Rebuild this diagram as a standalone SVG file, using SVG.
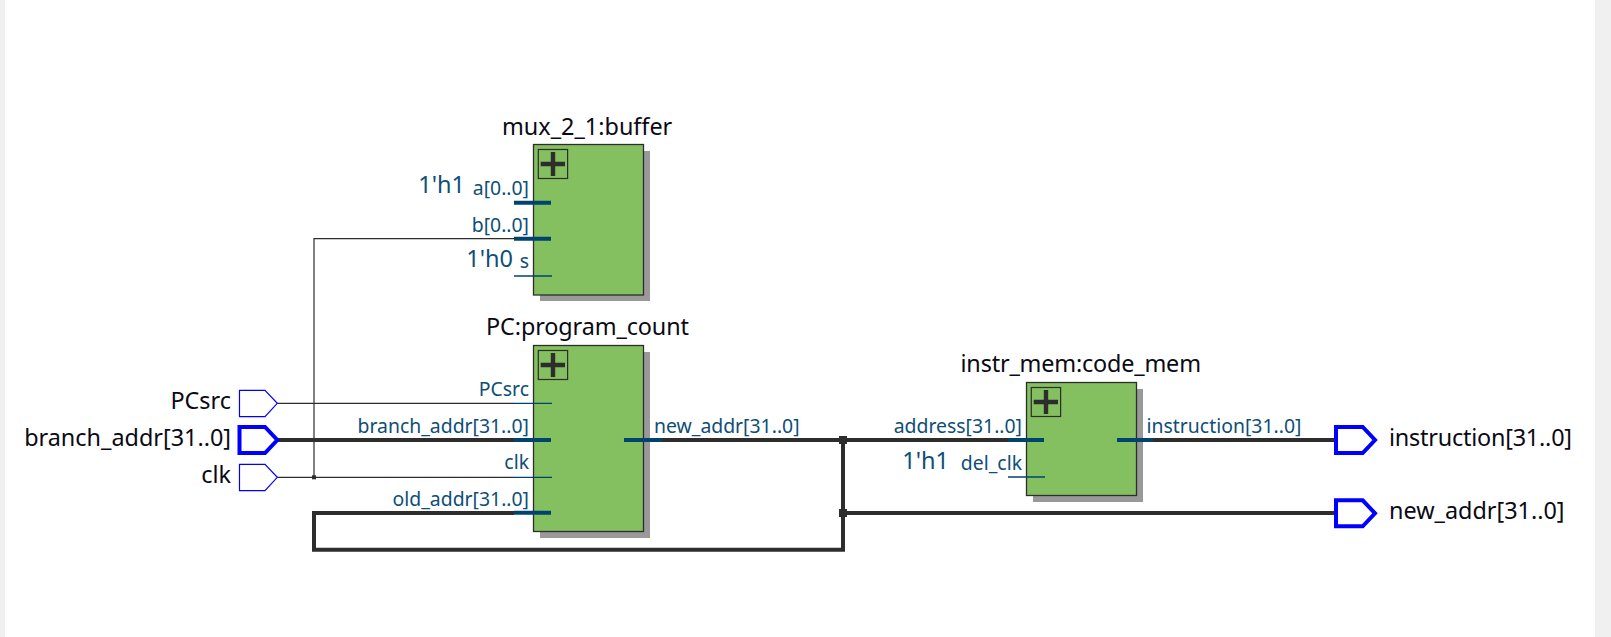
<svg xmlns="http://www.w3.org/2000/svg" width="1611" height="637" viewBox="0 0 1611 637">
<style>
.bg{fill:#f0f0f0}
.box{fill:#84bf60;stroke:#2d2d2d;stroke-width:1.3}
.sh{fill:#999}
.ic{fill:none;stroke:#2d2d2d;stroke-width:1.2}
.pl{fill:none;stroke:#2d2d2d;stroke-width:4.4}
text{font-family:"Noto Sans","Open Sans","Liberation Sans",sans-serif}
.t{font-size:23.4px;fill:#0a0a14}
.p{font-size:19.4px;fill:#0e4e78}
.c{font-size:23.5px;fill:#0e4e78}
.e{text-anchor:end}
.w1{fill:none;stroke:#2d2d2d;stroke-width:1.2}
.w3{fill:none;stroke:#2d2d2d;stroke-width:4}
.s1{fill:none;stroke:#00446e;stroke-width:1.3}
.s3{fill:none;stroke:#00446e;stroke-width:4}
.pin1{fill:#fff;stroke:#0000ff;stroke-width:1.2}
.pin3{fill:#fff;stroke:#0000ff;stroke-width:4}
</style>
<rect width="1611" height="637" fill="#fff"/>
<rect class="bg" x="0" y="0" width="5" height="637"/>
<rect class="bg" x="1595" y="0" width="16" height="637"/>
<g id="connectors">
<path class="w1" d="M277 403.3H514M277 477.3H514M514 238.7H314V477.3"/>
<path class="w3" d="M277 440H514M662 440H1008M1153 440H1336M843 440V549.700H314V513H514M843 513H1336"/>
<rect x="312" y="475.3" width="4" height="4" fill="#2d2d2d"/>
<rect x="839" y="436" width="8" height="8" fill="#2d2d2d"/>
<rect x="839" y="509" width="8" height="8" fill="#2d2d2d"/>
</g>
<g id="pin-PCsrc"><path class="pin1" d="M239.5 390.3H265L277.3 403.3L265 416.7H239.5Z"/><text class="t e" x="231" y="409">PCsrc</text></g>
<g id="pin-branch_addr"><path class="pin3" d="M239.5 427H265L277.3 440L265 453H239.5Z"/><text class="t e" x="231" y="446">branch_addr[31..0]</text></g>
<g id="pin-clk"><path class="pin1" d="M239.5 464.3H265L277.3 477.3L265 490.7H239.5Z"/><text class="t e" x="231" y="483">clk</text></g>
<g id="pin-instruction"><path class="pin3" d="M1336 427H1362.7L1375 440L1362.7 453H1336Z"/><text class="t" x="1389" y="446" textLength="183">instruction[31..0]</text></g>
<g id="pin-new_addr"><path class="pin3" d="M1336 500.3H1362.7L1375 513.3L1362.7 526.3H1336Z"/><text class="t" x="1389" y="519">new_addr[31..0]</text></g>
<g id="mux_2_1-buffer">
<rect class="sh" x="540" y="151" width="110" height="150"/>
<rect class="box" x="533.5" y="144.5" width="110" height="150.500"/>
<rect class="ic" x="538.3" y="149.5" width="29.300" height="29"/>
<path class="pl" d="M540.7 164H565M553 152V176"/>
<text class="t" x="502" y="134.500">mux_2_1:buffer</text>
<path class="s3" d="M514 202.700H551M514 238.700H551"/><path class="s1" d="M514 276H552"/>
<text class="p e" x="529" y="195">a[0..0]</text>
<text class="p e" x="529" y="232">b[0..0]</text>
<text class="p e" x="529" y="268">s</text>
<text class="c e" x="465" y="193">1'h1</text>
<text class="c e" x="513" y="267">1'h0</text>
</g>
<g id="PC-program_count">
<rect class="sh" x="540" y="352" width="110" height="186"/>
<rect class="box" x="533.5" y="345.500" width="110" height="186"/>
<rect class="ic" x="538.3" y="350.500" width="29.300" height="29"/>
<path class="pl" d="M540.7 365H565M553 353V377"/>
<text class="t" x="486" y="335" textLength="203">PC:program_count</text>
<path class="s1" d="M514 403.300H552M514 477.300H552"/><path class="s3" d="M514 440H551M514 512.700H551M624 440H662"/>
<text class="p e" x="529" y="396">PCsrc</text>
<text class="p e" x="529" y="433">branch_addr[31..0]</text>
<text class="p e" x="529" y="469">clk</text>
<text class="p e" x="529" y="506">old_addr[31..0]</text>
<text class="p" x="654" y="433">new_addr[31..0]</text>
</g>
<g id="instr_mem-code_mem">
<rect class="sh" x="1033" y="389" width="110" height="113"/>
<rect class="box" x="1026.500" y="382.500" width="110" height="113"/>
<rect class="ic" x="1031.300" y="387.500" width="29.300" height="29"/>
<path class="pl" d="M1033.700 402H1058M1046 390V414"/>
<text class="t" x="960.500" y="372" textLength="240.500">instr_mem:code_mem</text>
<path class="s3" d="M1008 440H1044M1117 440H1153"/><path class="s1" d="M1008 477H1045"/>
<text class="p e" x="1022" y="433">address[31..0]</text>
<text class="p e" x="1022" y="470">del_clk</text>
<text class="c e" x="949" y="469">1'h1</text>
<text class="p" x="1146.500" y="433" textLength="155">instruction[31..0]</text>
</g>
</svg>
